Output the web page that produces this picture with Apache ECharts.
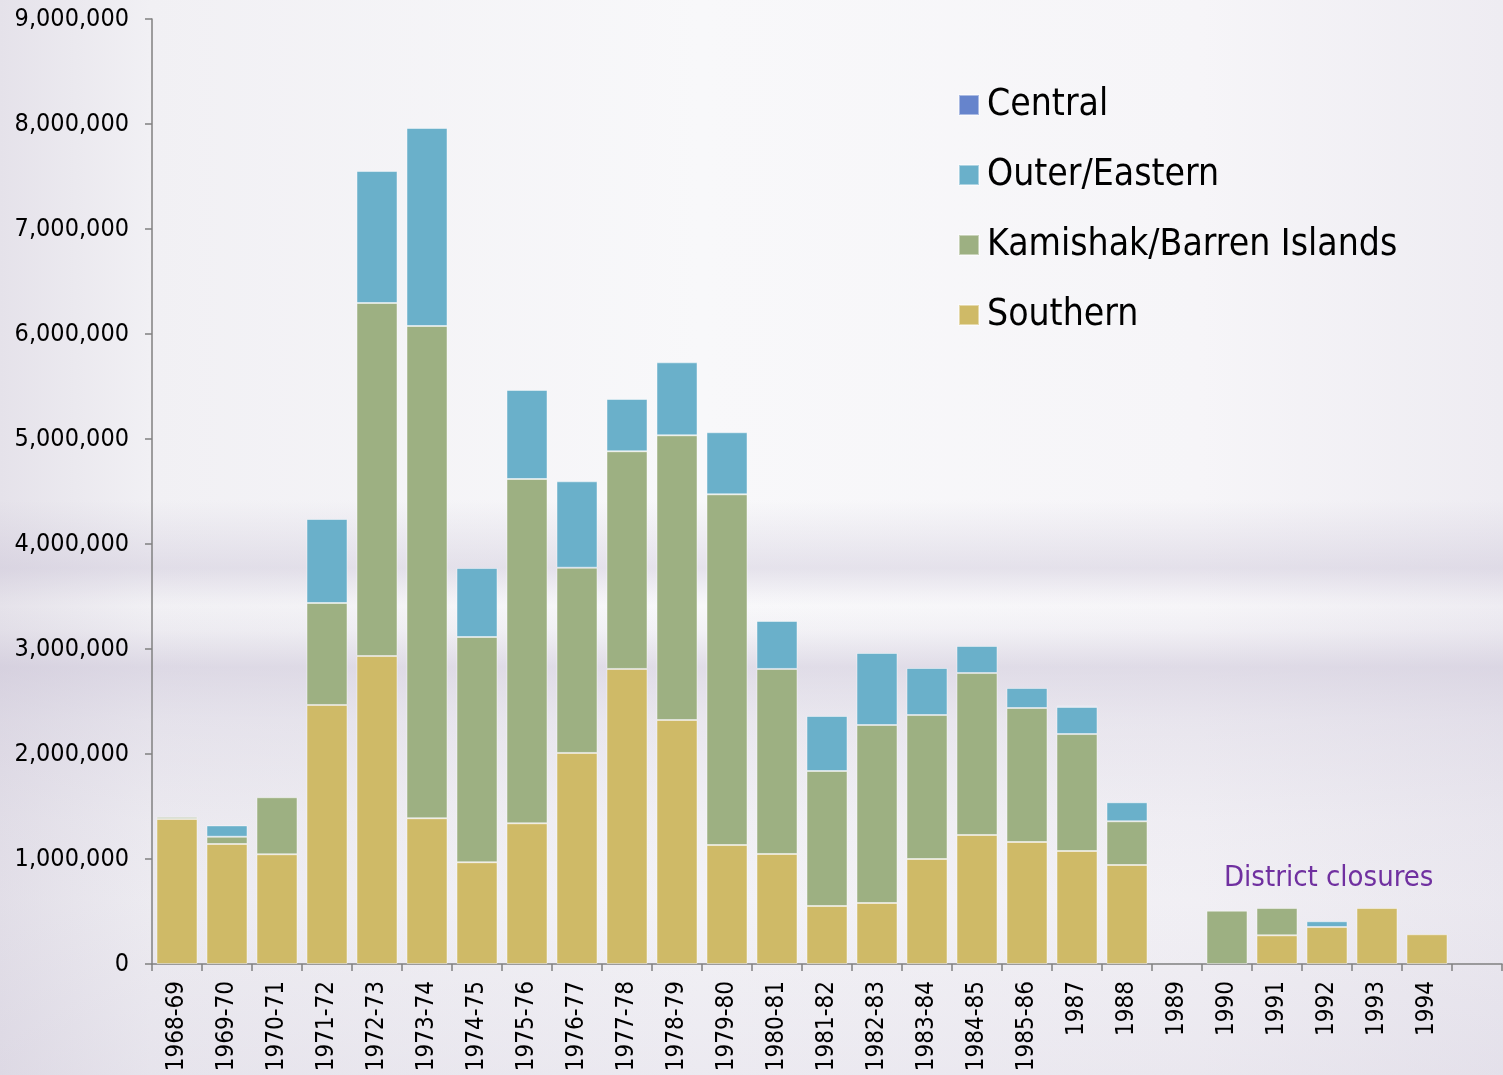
<!DOCTYPE html>
<html>
<head>
<meta charset="utf-8">
<script src="https://cdn.jsdelivr.net/npm/echarts@6/dist/echarts.min.js"></script>
<style>
html, body { margin: 0; padding: 0; }
body {
  width: 1503px; height: 1075px; overflow: hidden;
  background:
    linear-gradient(to bottom,
      rgba(196,188,210,0) 0px,
      rgba(196,188,210,0) 500px,
      rgba(196,188,210,0.36) 568px,
      rgba(196,188,210,0.06) 598px,
      rgba(196,188,210,0) 606px,
      rgba(196,188,210,0.1) 630px,
      rgba(196,188,210,0.45) 667px,
      rgba(196,188,210,0.28) 720px,
      rgba(196,188,210,0.14) 820px,
      rgba(196,188,210,0.1) 900px,
      rgba(196,188,210,0.24) 1075px),
    linear-gradient(to right, #E5E2EA 0px, #F1F0F4 150px, #F8F8FA 700px, #F6F5F8 1200px, #EEECF2 1503px);
}
#chart { width: 1503px; height: 1075px; }
</style>
</head>
<body>
<div id="chart"></div>
<script>
const categories = ['1968-69','1969-70','1970-71','1971-72','1972-73','1973-74','1974-75','1975-76','1976-77','1977-78','1978-79','1979-80','1980-81','1981-82','1982-83','1983-84','1984-85','1985-86','1987','1988','1989','1990','1991','1992','1993','1994',''];
const southern = [1381000,1143000,1045000,2467000,2933000,1388000,969000,1340000,2010000,2810000,2324000,1133000,1048000,552000,581000,1000000,1229000,1162000,1076000,943000,0,0,273000,352000,533000,283000];
const kamishak = [20000,69000,543000,971000,3362000,4688000,2145000,3279000,1764000,2073000,2711000,3340000,1762000,1286000,1695000,1371000,1542000,1276000,1114000,416000,0,508000,260000,0,0,0];
const outerEastern = [0,108000,0,800000,1257000,1886000,657000,848000,823000,498000,695000,591000,457000,524000,686000,448000,258000,191000,258000,181000,0,0,0,55000,0,0];
const central = [0,0,0,0,0,0,0,0,0,0,0,0,0,0,0,0,0,0,12000,12000,0,0,0,0,0,0];
const yTicks = [0,1000000,2000000,3000000,4000000,5000000,6000000,7000000,8000000,9000000];

const FONT = "'DejaVu Sans Condensed', 'DejaVu Sans', sans-serif";
const clean = arr => arr.map(v => (v === 0 ? null : v));
const barStyle = c => ({ color: c, borderColor: 'rgba(255,255,255,0.45)', borderWidth: 1 });

const chart = echarts.init(document.getElementById('chart'), null, { renderer: 'canvas' });
chart.setOption({
  backgroundColor: 'transparent',
  animation: false,
  grid: { left: 152, right: 1, top: 19, bottom: 111, containLabel: false },
  legend: {
    orient: 'vertical',
    left: 958, top: 85, padding: 0,
    itemWidth: 20, itemHeight: 20, itemGap: 30,
    icon: 'rect',
    data: ['Central','Outer/Eastern','Kamishak/Barren Islands','Southern'],
    textStyle: { fontFamily: FONT, fontSize: 37, color: '#000', lineHeight: 40, padding: [0,0,0,3] }
  },
  xAxis: {
    type: 'category',
    data: categories,
    boundaryGap: true,
    axisLine: { lineStyle: { color: '#808080', width: 1.5 } },
    axisTick: { show: true, length: 7, lineStyle: { color: '#808080', width: 1.5 } },
    axisLabel: { rotate: 90, margin: 17, fontFamily: FONT, fontSize: 24, color: '#000', interval: 0 },
    splitLine: { show: false }
  },
  yAxis: {
    type: 'value',
    min: 0, max: 9000000, interval: 1000000,
    axisLine: { show: true, lineStyle: { color: '#808080', width: 1.5 } },
    axisTick: { show: true, length: 7, lineStyle: { color: '#808080', width: 1.5 } },
    axisLabel: {
      margin: 23, fontFamily: FONT, fontSize: 25, color: '#000',
      formatter: v => yTicks.includes(v) ? v.toLocaleString('en-US') : ''
    },
    splitLine: { show: false }
  },
  series: [
    { name: 'Southern', type: 'bar', stack: 't', barWidth: 41, data: clean(southern), itemStyle: barStyle('#CFBA67') },
    { name: 'Kamishak/Barren Islands', type: 'bar', stack: 't', barWidth: 41, data: clean(kamishak), itemStyle: barStyle('#9DB082') },
    { name: 'Outer/Eastern', type: 'bar', stack: 't', barWidth: 41, data: clean(outerEastern), itemStyle: barStyle('#6AB0CA') },
    { name: 'Central', type: 'bar', stack: 't', barWidth: 41, data: clean(central), itemStyle: barStyle('#6684CC') }
  ],
  graphic: [
    { type: 'text', left: 1224, top: 864, style: { text: 'District closures', fontFamily: FONT, fontSize: 29, fill: '#7030A0' } }
  ]
});
</script>
</body>
</html>
